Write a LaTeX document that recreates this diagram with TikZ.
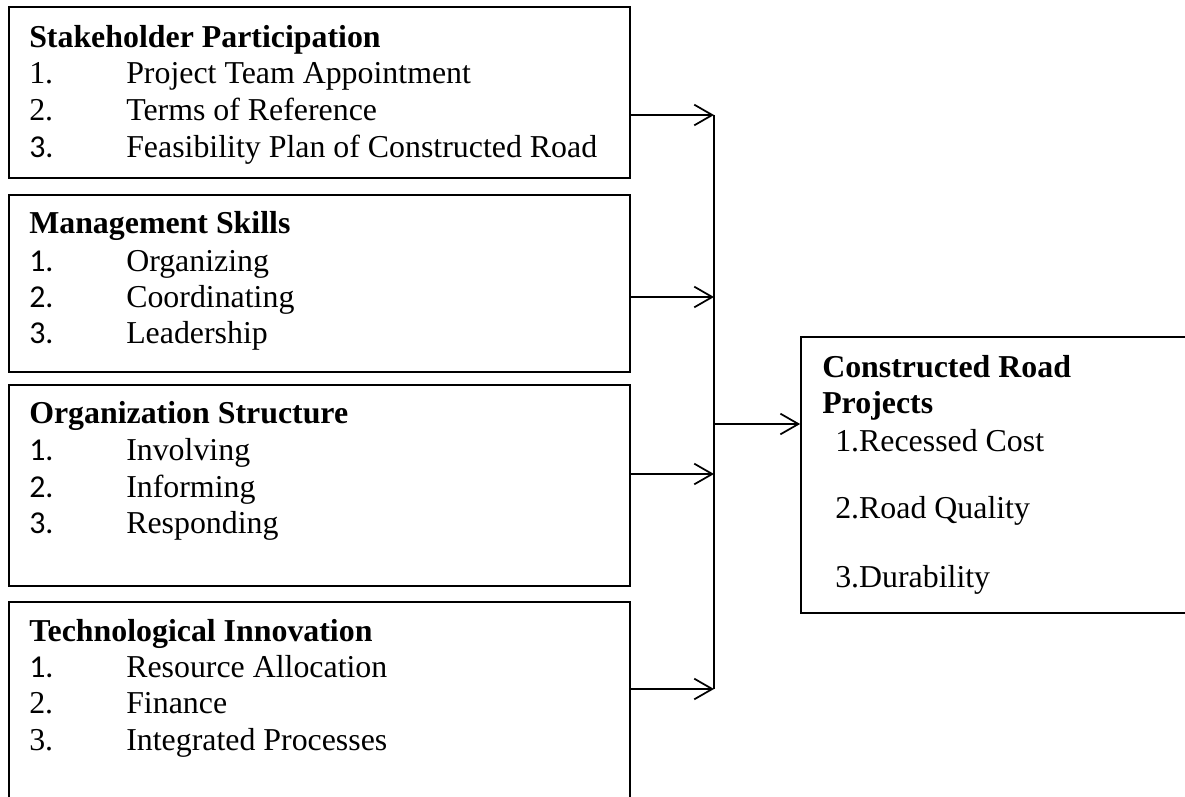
\documentclass[tikz,border=0pt]{standalone}
\usepackage{fontspec}
\setmainfont{Liberation Serif}
\newfontfamily\numfont{Carlito}
\usetikzlibrary{arrows.meta}

\tikzset{
  frame/.style={draw=black, line width=1.3pt, rectangle, inner sep=0pt},
  txt/.style={anchor=base west, inner sep=0pt, font=\fontsize{23.9}{28}\selectfont},
  head/.style={txt, font=\fontsize{23.9}{28}\selectfont\bfseries},
  link/.style={line width=1.3pt, -{Straight Barb[length=13.5pt, width=15.5pt, line width=1.3pt]}},
  bus/.style={line width=1.3pt}
}

\begin{document}
\begin{tikzpicture}[x=0.75pt, y=-0.75pt]
\useasboundingbox (0,0) rectangle (1185,796);

% input boxes
\node[frame, minimum width=465.75pt, minimum height=128.25pt] (sp) at (319.5,92.5) {};
\node[frame, minimum width=465.75pt, minimum height=132.75pt] (ms) at (319.5,283.5) {};
\node[frame, minimum width=465.75pt, minimum height=150.75pt] (os) at (319.5,485.5) {};
\node[frame, minimum width=465.75pt, minimum height=153pt] (ti) at (319.5,704) {};
% output box
\node[frame, minimum width=295.5pt, minimum height=207pt] (cr) at (998,475) {};

% Stakeholder Participation
\node[head] (sp0) at (29,47) {Stakeholder Participation};
\node[txt] (sp1n) at (29,83) {1.};
\node[txt] (sp1) at (126,83) {Project Team Appointment};
\node[txt] (sp2n) at (29,120) {2.};
\node[txt] (sp2) at (126,120) {Terms of Reference};
\node[txt] (sp3n) at (29,157) {\numfont 3.};
\node[txt] (sp3) at (126,157) {Feasibility Plan of Constructed Road};

% Management Skills
\node[head] (ms0) at (29,233) {Management Skills};
\node[txt] (ms1n) at (29,271) {\numfont 1.};
\node[txt] (ms1) at (126,271) {Organizing};
\node[txt] (ms2n) at (29,307) {\numfont 2.};
\node[txt] (ms2) at (126,307) {Coordinating};
\node[txt] (ms3n) at (29,343) {\numfont 3.};
\node[txt] (ms3) at (126,343) {Leadership};

% Organization Structure
\node[head] (os0) at (29,423) {Organization Structure};
\node[txt] (os1n) at (29,460) {\numfont 1.};
\node[txt] (os1) at (126,460) {Involving};
\node[txt] (os2n) at (29,497) {\numfont 2.};
\node[txt] (os2) at (126,497) {Informing};
\node[txt] (os3n) at (29,533) {\numfont 3.};
\node[txt] (os3) at (126,533) {Responding};

% Technological Innovation
\node[head] (ti0) at (29,641) {Technological Innovation};
\node[txt] (ti1n) at (29,677) {\numfont 1.};
\node[txt] (ti1) at (126,677) {Resource Allocation};
\node[txt] (ti2n) at (29,713) {2.};
\node[txt] (ti2) at (126,713) {Finance};
\node[txt] (ti3n) at (29,750) {3.};
\node[txt] (ti3) at (126,750) {Integrated Processes};

% Constructed Road Projects
\node[head] (cr0) at (822,377) {Constructed Road};
\node[head] (cr0b) at (822,413) {Projects};
\node[txt] (cr1) at (835,451) {1.Recessed Cost};
\node[txt] (cr2) at (835,518) {2.Road Quality};
\node[txt] (cr3) at (835,587) {3.Durability};

% junction points on the collecting line
\coordinate (j1) at (714,115);
\coordinate (j2) at (714,297);
\coordinate (j3) at (714,474);
\coordinate (j4) at (714,689);
\coordinate (jm) at (714,424);

\draw[bus] (j1) -- (j4);
\draw[link] (sp.east |- j1) -- (j1);
\draw[link] (ms.east |- j2) -- (j2);
\draw[link] (os.east |- j3) -- (j3);
\draw[link] (ti.east |- j4) -- (j4);
\draw[link] (jm) -- (cr.west |- jm);
\end{tikzpicture}
\end{document}
